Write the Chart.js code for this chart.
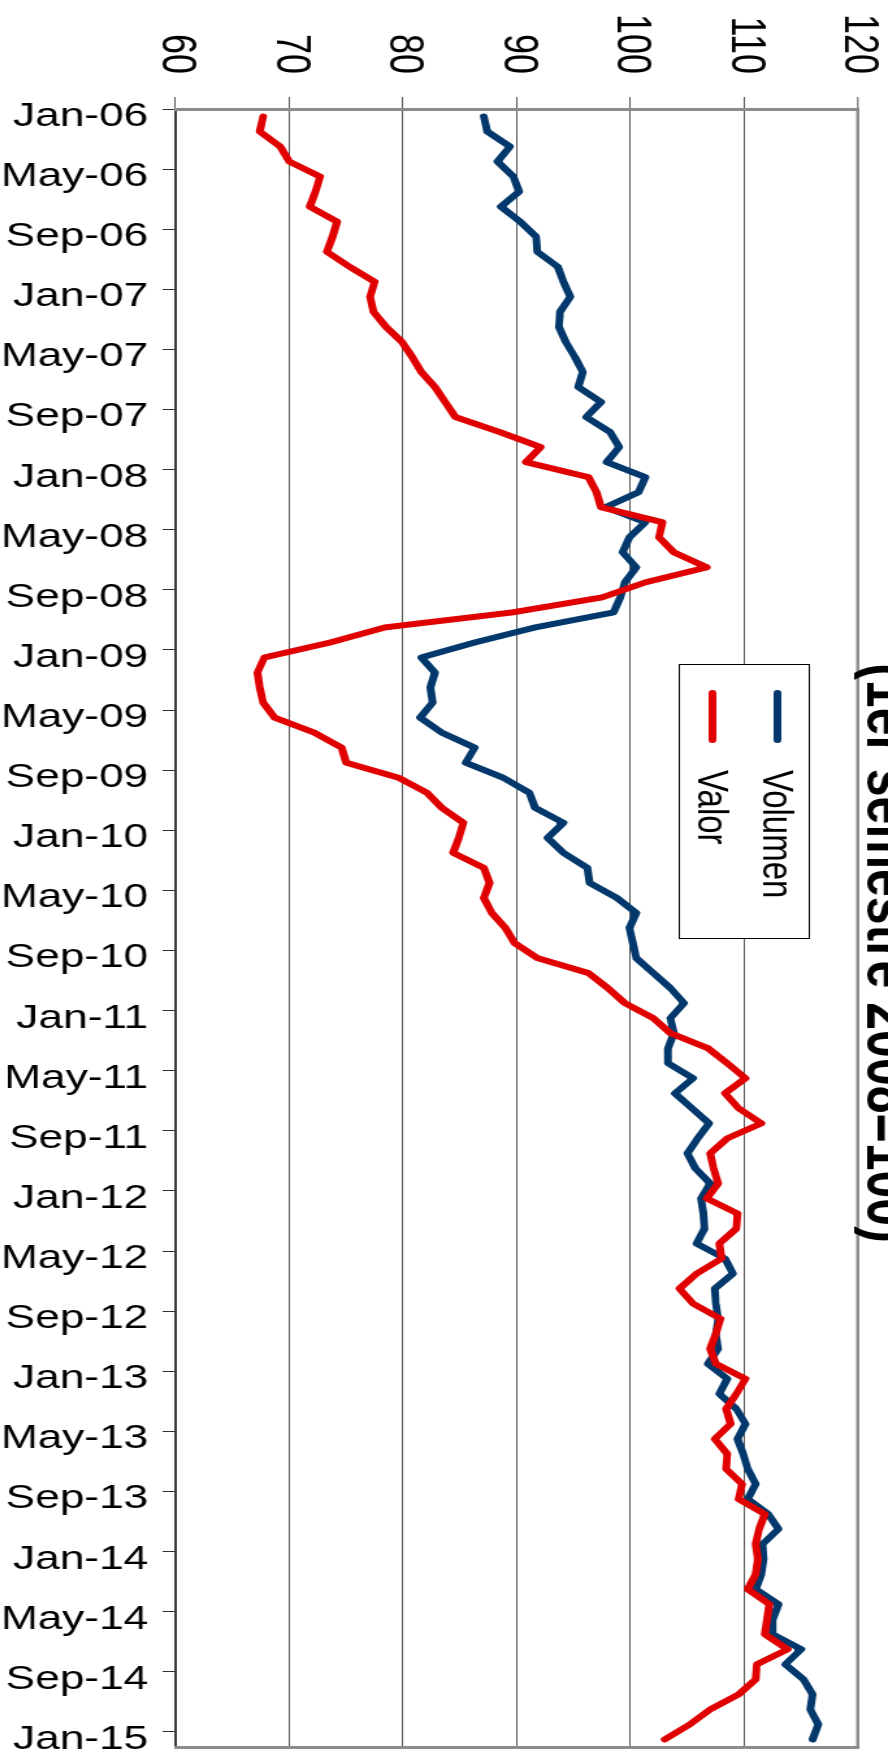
<!DOCTYPE html>
<html>
<head>
<meta charset="utf-8">
<title>Volumen y valor</title>
<script src="https://cdn.jsdelivr.net/npm/chart.js@4.4.1/dist/chart.umd.min.js"></script>
<style>
  html, body { margin: 0; padding: 0; background: #fff; overflow: hidden; }
  #wrap { position: relative; width: 888px; height: 1759px; overflow: hidden; }
  /* the chart is laid out landscape and turned a quarter clockwise */
  #chart {
    position: absolute; left: 0; top: 0;
    transform-origin: 0 0;
    transform: translateX(888px) rotate(90deg) scaleY(1.3);
  }
</style>
</head>
<body>
<div id="wrap"><canvas id="chart" width="1759" height="683"></canvas></div>
<script>
// monthly categories, Jan-06 .. Jan-15
const monthNames = ['Jan', 'Feb', 'Mar', 'Apr', 'May', 'Jun', 'Jul', 'Aug', 'Sep', 'Oct', 'Nov', 'Dec'];
const categories = [];
for (let yr = 6; yr <= 15; yr++) {
  for (let m = 0; m < 12; m++) {
    if (yr === 15 && m > 0) break;
    categories.push(monthNames[m] + '-' + String(yr).padStart(2, '0'));
  }
}

const titleText = '(1er semestre 2008=100)';
const seriesNames = ['Volumen', 'Valor'];
const valueTicks = [60, 70, 80, 90, 100, 110, 120];

const volumen = [
  87.1, 87.4, 89.4, 88.3, 89.7, 90.2, 88.6, 90.3, 91.7, 91.8,
  93.6, 94.1, 94.7, 93.8, 93.7, 94.3, 95.1, 95.8, 95.4, 97.4,
  96.1, 98.2, 99.0, 97.9, 101.3, 100.7, 97.8, 101.3, 99.9, 99.3,
  100.5, 99.5, 99.1, 98.5, 91.6, 86.3, 81.6, 82.8, 82.4, 82.6,
  81.5, 83.4, 86.3, 85.5, 88.8, 91.1, 91.6, 94.1, 92.7, 94.1,
  96.2, 96.4, 98.8, 100.5, 99.9, 100.2, 100.5, 102.0, 103.5, 104.7,
  103.5, 103.8, 103.3, 103.3, 105.5, 103.9, 105.4, 106.9, 105.9, 105.0,
  105.7, 107.0, 106.2, 106.4, 106.5, 105.8, 108.3, 109.0, 107.4, 107.5,
  107.7, 107.5, 107.7, 106.8, 108.5, 107.8, 109.3, 110.1, 109.4, 109.9,
  110.3, 111.0, 110.3, 112.1, 113.0, 111.6, 111.7, 111.5, 111.0, 113.0,
  112.5, 112.5, 115.0, 113.6, 115.2, 116.0, 115.8, 116.5, 116.0
];

const valor = [
  67.7, 67.4, 69.2, 70.0, 72.7, 72.3, 71.8, 74.2, 73.8, 73.3,
  75.3, 77.5, 77.1, 77.4, 78.5, 79.9, 80.8, 81.6, 82.8, 83.7,
  84.6, 88.5, 92.1, 90.8, 96.3, 97.0, 97.4, 102.8, 102.5, 103.8,
  106.7, 101.3, 97.5, 89.6, 78.4, 73.6, 67.8, 67.2, 67.4, 67.7,
  68.7, 72.2, 74.6, 75.0, 79.6, 82.1, 83.4, 85.3, 84.9, 84.4,
  87.1, 87.6, 87.1, 87.8, 89.0, 89.8, 91.8, 96.3, 98.0, 99.5,
  102.0, 103.5, 106.8, 108.5, 110.1, 108.3, 109.5, 111.5, 108.5, 107.0,
  107.3, 107.7, 106.7, 109.4, 109.3, 107.8, 108.0, 105.8, 104.3, 105.5,
  107.9, 107.5, 107.0, 107.5, 110.1, 109.3, 108.4, 108.8, 107.4, 108.5,
  108.4, 109.8, 109.5, 111.8, 111.3, 111.0, 111.2, 111.0, 110.3, 112.2,
  112.0, 111.8, 113.8, 111.1, 111.0, 109.5, 107.0, 105.2, 103.0
];

const FONT = '"Liberation Sans", Arial, Helvetica, sans-serif';
Chart.defaults.font.family = FONT;
Chart.defaults.color = '#000';

// title (its upper part runs off the canvas) and the boxed legend
const titleAndLegend = {
  id: 'titleAndLegend',
  afterDraw(chart) {
    const ctx = chart.ctx;
    ctx.save();
    ctx.fillStyle = '#000';
    ctx.font = 'bold 50px ' + FONT;
    ctx.textAlign = 'center';
    ctx.textBaseline = 'alphabetic';
    ctx.fillText(titleText, 953, 16);

    const box = { x: 664, y: 60, w: 274, h: 100 };
    ctx.fillStyle = '#fff';
    ctx.fillRect(box.x, box.y, box.w, box.h);
    ctx.strokeStyle = '#000';
    ctx.lineWidth = 1;
    ctx.strokeRect(box.x + 0.5, box.y + 0.5, box.w, box.h);

    ctx.font = '33px ' + FONT;
    ctx.textAlign = 'left';
    chart.data.datasets.forEach((ds, i) => {
      const rowY = box.y + 25 + i * 50;
      ctx.strokeStyle = ds.borderColor;
      ctx.lineWidth = ds.borderWidth;
      ctx.lineCap = 'round';
      ctx.beginPath();
      ctx.moveTo(box.x + 29, rowY);
      ctx.lineTo(box.x + 76, rowY);
      ctx.stroke();
      ctx.fillStyle = '#000';
      ctx.fillText(ds.label, box.x + 106, rowY + 10.5);
    });
    ctx.restore();
  }
};

const lineStyle = {
  borderWidth: 6,
  pointRadius: 0,
  tension: 0,
  borderJoinStyle: 'round',
  borderCapStyle: 'round',
  fill: false
};

new Chart(document.getElementById('chart'), {
  type: 'line',
  data: {
    labels: categories,
    datasets: [
      Object.assign({ label: seriesNames[0], data: volumen, borderColor: '#02386c', order: 2 }, lineStyle),
      Object.assign({ label: seriesNames[1], data: valor, borderColor: '#e10000', order: 1 }, lineStyle)
    ]
  },
  options: {
    responsive: false,
    animation: false,
    devicePixelRatio: 1,
    layout: { padding: { top: 23, left: 0, right: 0, bottom: 0 } },
    plugins: {
      legend: { display: false },
      title: { display: false },
      tooltip: { enabled: false }
    },
    scales: {
      x: {
        type: 'category',
        offset: true,
        grid: {
          offset: true,
          drawOnChartArea: false,
          drawTicks: true,
          tickLength: 10,
          tickWidth: 1,
          tickColor: ctx => (ctx.index % 4 === 0 ? '#333' : 'rgba(0,0,0,0)')
        },
        border: { display: true, color: '#333', width: 1.5 },
        ticks: {
          autoSkip: false,
          minRotation: 90,
          maxRotation: 90,
          padding: 11,
          font: { size: 34 },
          callback: (val, i) => (i % 4 === 0 ? categories[i] : '')
        },
        afterFit: scale => {
          scale.height = 135;
          scale.paddingLeft = 0;
          scale.paddingRight = 0;
        }
      },
      y: {
        position: 'left',
        min: valueTicks[0],
        max: valueTicks[valueTicks.length - 1],
        afterBuildTicks: scale => { scale.ticks = valueTicks.map(v => ({ value: v })); },
        grid: {
          color: ctx => (ctx.tick && ctx.tick.value === 120 ? '#8c8c8c' : '#555'),
          lineWidth: ctx => (ctx.tick && ctx.tick.value === 120 ? 2.4 : 1),
          tickLength: 12,
          tickWidth: 1,
          tickColor: '#555'
        },
        border: { display: true, color: '#8c8c8c', width: 3 },
        ticks: { padding: 23, font: { size: 36 } },
        afterFit: scale => {
          scale.width = 109;
          scale.paddingTop = 0;
          scale.paddingBottom = 0;
        }
      },
      yRight: {
        position: 'right',
        display: true,
        grid: { drawOnChartArea: false, drawTicks: false },
        border: { display: true, color: '#8c8c8c', width: 3 },
        ticks: { display: false },
        afterFit: scale => {
          scale.width = 12;
          scale.paddingTop = 0;
          scale.paddingBottom = 0;
        }
      }
    }
  },
  plugins: [titleAndLegend]
});
</script>
</body>
</html>
